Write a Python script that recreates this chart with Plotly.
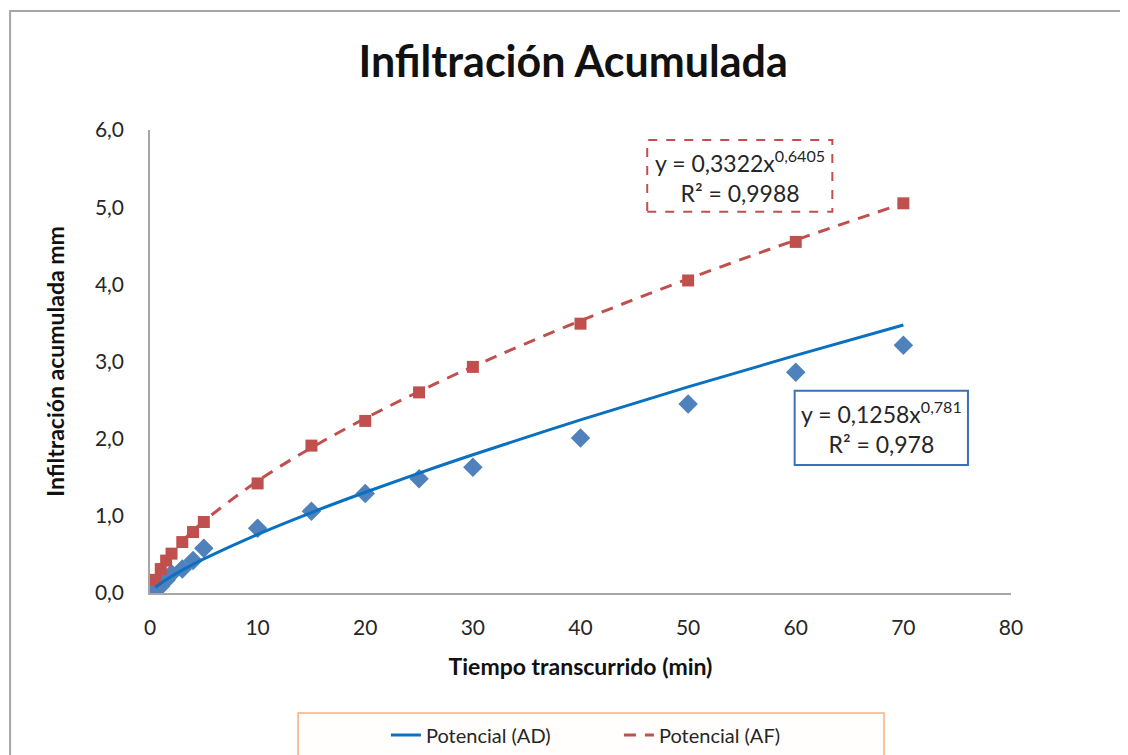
import numpy as np
import plotly.graph_objects as go

tiempo = [0.5, 1, 1.5, 2, 3, 4, 5, 10, 15, 20, 25, 30, 40, 50, 60, 70]
infil_ad = [0.03, 0.09, 0.17, 0.25, 0.31, 0.42, 0.58, 0.84, 1.06, 1.29, 1.48, 1.63, 2.01, 2.45, 2.86, 3.21]
infil_af = [0.17, 0.31, 0.42, 0.51, 0.66, 0.79, 0.92, 1.42, 1.91, 2.23, 2.60, 2.93, 3.49, 4.05, 4.55, 5.05]

# coeficientes de la linea de tendencia potencial (y = a x^b) mostrados en el grafico
fit_ad = (0.1258, 0.781)
fit_af = (0.3322, 0.6405)

RED = "#c0504d"
BLUE = "#4f81bd"
BLUE_LINE = "#0a70c0"
FONT = "Lato"

x_arr = np.array(tiempo)
trend_ad = fit_ad[0] * x_arr ** fit_ad[1]
trend_af = fit_af[0] * x_arr ** fit_af[1]

fig = go.Figure()
fig.add_trace(go.Scatter(x=tiempo, y=infil_ad, mode="markers", showlegend=False,
                         marker=dict(symbol="diamond", size=15, color=BLUE)))
fig.add_trace(go.Scatter(x=tiempo, y=infil_af, mode="markers", showlegend=False,
                         marker=dict(symbol="square", size=12, color=RED)))
fig.add_trace(go.Scatter(x=tiempo, y=trend_ad, mode="lines", name="Potencial (AD)", line_shape="spline",
                         line=dict(color=BLUE_LINE, width=3)))
fig.add_trace(go.Scatter(x=tiempo, y=trend_af, mode="lines", name="Potencial (AF)", line_shape="spline",
                         line=dict(color=RED, width=3, dash="12px,9px")))

axis_common = dict(showgrid=False, zeroline=False, showline=True, linecolor="#a6a6a6", linewidth=1.5,
                   ticks="outside", tickcolor="rgba(0,0,0,0)", automargin=False,
                   tickfont=dict(size=21, color="#262626", family=FONT))
fig.update_xaxes(range=[0, 80], dtick=10, ticklen=15, title=dict(text="<b>Tiempo transcurrido (min)</b>",
                 font=dict(size=23, color="#111", family=FONT), standoff=21), **axis_common)
fig.update_yaxes(range=[0, 6], dtick=1, ticklen=20, tickformat=".1f", title=dict(text="<b>Infiltración acumulada mm</b>",
                 font=dict(size=23, color="#111", family=FONT), standoff=24), **axis_common)

# cajas de las ecuaciones
fig.add_shape(type="rect", xref="x", yref="y", x0=46.2, x1=63.4, y0=4.94, y1=5.87,
              line=dict(color=RED, width=2, dash="dash"), fillcolor="white", layer="below")
fig.add_annotation(x=54.8, y=5.40, xref="x", yref="y", showarrow=False, align="center",
                   text="y = 0,3322x<sup>0,6405</sup><br>R² = 0,9988", font=dict(size=23, color="#262626", family=FONT))
fig.add_shape(type="rect", xref="x", yref="y", x0=59.9, x1=76.0, y0=1.66, y1=2.62,
              line=dict(color="#3a6fba", width=2), fillcolor="white", layer="below")
fig.add_annotation(x=68.0, y=2.14, xref="x", yref="y", showarrow=False, align="center",
                   text="y = 0,1258x<sup>0,781</sup><br>R² = 0,978", font=dict(size=23, color="#262626", family=FONT))

# marco exterior del grafico y caja de la leyenda
fig.add_shape(type="rect", xref="paper", yref="paper", x0=-0.1625, x1=1.2, y0=-0.4, y1=1.257,
              line=dict(color="#a6a6a6", width=2), layer="below")
fig.add_shape(type="rect", xref="paper", yref="paper", x0=0.172, x1=0.8525, y0=-0.4, y1=-0.259,
              line=dict(color="#f4b183", width=1.5), fillcolor="#fffefc", layer="below")

fig.update_layout(
    width=1128, height=755,
    margin=dict(l=142, r=125, t=122, b=170),
    paper_bgcolor="white", plot_bgcolor="white",
    separators=",.",
    font=dict(family=FONT, color="#262626"),
    title=dict(text="<b>Infiltración Acumulada</b>", x=0.501, xanchor="center", y=0.9285, yanchor="middle",
               font=dict(size=43, color="#111", family=FONT)),
    legend=dict(orientation="h", x=0.274, xanchor="left", yref="container", y=0.037, yanchor="middle",
                bgcolor="rgba(0,0,0,0)", entrywidth=188, font=dict(size=20, color="#262626", family=FONT)),
)

fig.write_html("out.html")
